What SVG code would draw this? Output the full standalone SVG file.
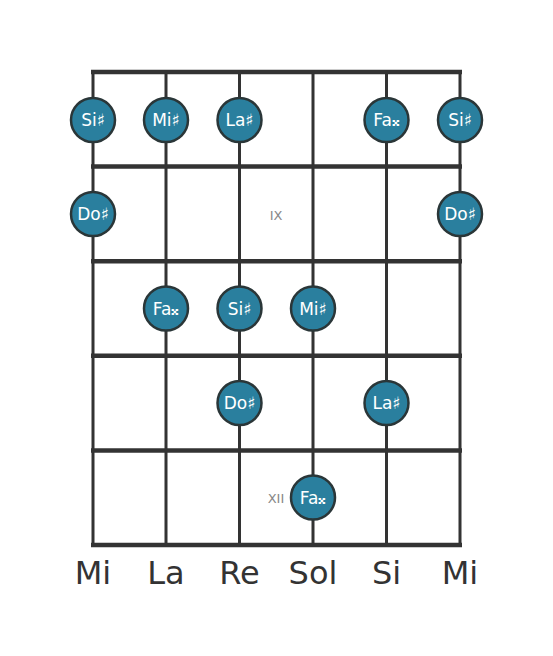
<svg xmlns="http://www.w3.org/2000/svg" width="553" height="656" viewBox="0 0 553 656">
<style>
.fret{stroke:#333;stroke-width:4.5;fill:none}
.str{stroke:#333;stroke-width:3;fill:none}
.n circle{fill:#2a7f9e;stroke:#2a3638;stroke-width:2.5}
.n text{fill:#fff;font-family:"DejaVu Sans",sans-serif;font-size:17px;text-anchor:middle;dominant-baseline:central}
.lbl{fill:#333;font-family:"DejaVu Sans",sans-serif;font-size:32px;text-anchor:middle}
.fl{fill:#888;font-family:"DejaVu Sans",sans-serif;font-size:13px;text-anchor:middle;dominant-baseline:central}
</style>
<rect width="553" height="656" fill="#fff"/>
<g id="connectors">
<line class="str" x1="93" y1="72" x2="93" y2="545"/>
<line class="str" x1="166" y1="72" x2="166" y2="545"/>
<line class="str" x1="239.5" y1="72" x2="239.5" y2="545"/>
<line class="str" x1="313" y1="72" x2="313" y2="545"/>
<line class="str" x1="386.5" y1="72" x2="386.5" y2="545"/>
<line class="str" x1="460" y1="72" x2="460" y2="545"/>
<line class="fret" x1="91" y1="72" x2="462" y2="72"/>
<line class="fret" x1="91" y1="166.6" x2="462" y2="166.6"/>
<line class="fret" x1="91" y1="261.2" x2="462" y2="261.2"/>
<line class="fret" x1="91" y1="355.8" x2="462" y2="355.8"/>
<line class="fret" x1="91" y1="450.4" x2="462" y2="450.4"/>
<line class="fret" x1="91" y1="545" x2="462" y2="545"/>
</g>
<text class="fl" x="276" y="215">IX</text>
<text class="fl" x="276" y="498">XII</text>
<g id="n1" class="n"><circle cx="93" cy="120" r="22"/><text x="93" y="120">Si♯</text></g>
<g id="n2" class="n"><circle cx="166" cy="120" r="22"/><text x="166" y="120">Mi♯</text></g>
<g id="n3" class="n"><circle cx="239.5" cy="120" r="22"/><text x="239.5" y="120">La♯</text></g>
<g id="n4" class="n"><circle cx="386.5" cy="120" r="22"/><text x="386.5" y="120">Fa𝄪</text></g>
<g id="n5" class="n"><circle cx="460" cy="120" r="22"/><text x="460" y="120">Si♯</text></g>
<g id="n6" class="n"><circle cx="93" cy="214" r="22"/><text x="93" y="214">Do♯</text></g>
<g id="n7" class="n"><circle cx="460" cy="214" r="22"/><text x="460" y="214">Do♯</text></g>
<g id="n8" class="n"><circle cx="166" cy="308.5" r="22"/><text x="166" y="308.5">Fa𝄪</text></g>
<g id="n9" class="n"><circle cx="239.5" cy="308.5" r="22"/><text x="239.5" y="308.5">Si♯</text></g>
<g id="n10" class="n"><circle cx="313" cy="308.5" r="22"/><text x="313" y="308.5">Mi♯</text></g>
<g id="n11" class="n"><circle cx="239.5" cy="403" r="22"/><text x="239.5" y="403">Do♯</text></g>
<g id="n12" class="n"><circle cx="386.5" cy="403" r="22"/><text x="386.5" y="403">La♯</text></g>
<g id="n13" class="n"><circle cx="313" cy="497.5" r="22"/><text x="313" y="497.5">Fa𝄪</text></g>
<text class="lbl" x="93" y="584">Mi</text>
<text class="lbl" x="166" y="584">La</text>
<text class="lbl" x="239.5" y="584">Re</text>
<text class="lbl" x="313" y="584">Sol</text>
<text class="lbl" x="386.5" y="584">Si</text>
<text class="lbl" x="460" y="584">Mi</text>
</svg>
